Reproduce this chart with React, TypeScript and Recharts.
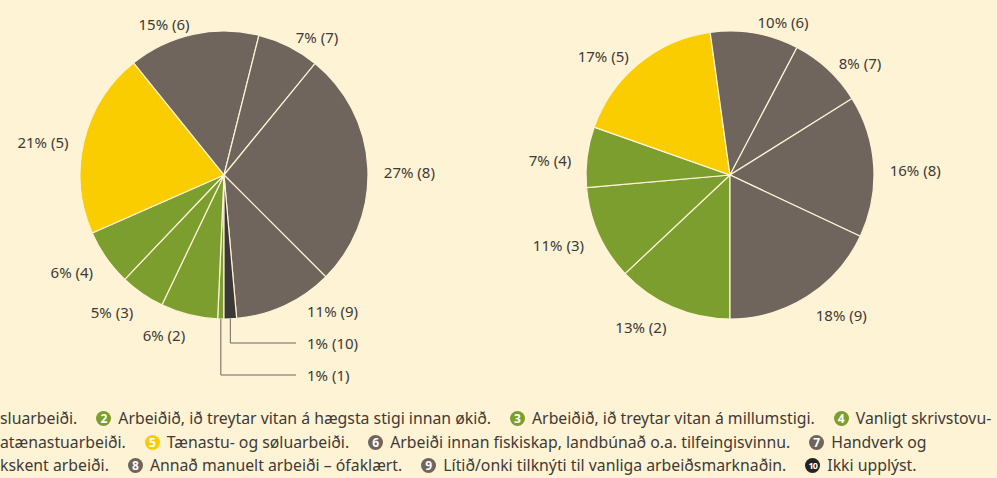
import { PieChart, Pie, Cell } from "recharts";

// occupational groups 1..10, shares in percent
const CODES = [1, 2, 3, 4, 5, 6, 7, 8, 9, 10];
const LEFT_SHARES = [0.7, 6.4, 5.0, 6.3, 20.8, 14.7, 7.0, 26.6, 11.1, 1.4];
const RIGHT_SHARES = [0, 13.0, 10.6, 6.8, 17.4, 9.9, 8.4, 15.9, 18.0, 0];

const GREEN = "#7b9e2f";
const YELLOW = "#f9cd00";
const BROWN = "#6f655c";
const DARK = "#3a3937";
const SLICE_COLORS = [GREEN, GREEN, GREEN, GREEN, YELLOW, BROWN, BROWN, BROWN, BROWN, DARK];

const BG = "#fff3d5";
const TEXT = "#3d3a37";
const FONT = "'Noto Sans', sans-serif";

// legend is cut at the left edge of the picture, so rows start mid-sentence
const LEGEND_ROWS = [
	[
		{ code: 0, text: "sluarbeiði." },
		{ code: 2, text: "Arbeiðið, ið treytar vitan á hægsta stigi innan økið." },
		{ code: 3, text: "Arbeiðið, ið treytar vitan á millumstigi." },
		{ code: 4, text: "Vanligt skrivstovu-" },
	],
	[
		{ code: 0, text: "atænastuarbeiði." },
		{ code: 5, text: "Tænastu- og søluarbeiði." },
		{ code: 6, text: "Arbeiði innan fiskiskap, landbúnað o.a. tilfeingisvinnu." },
		{ code: 7, text: "Handverk og" },
	],
	[
		{ code: 0, text: "kskent arbeiði." },
		{ code: 8, text: "Annað manuelt arbeiði – ófaklært." },
		{ code: 9, text: "Lítið/onki tilknýti til vanliga arbeiðsmarknaðin." },
		{ code: 10, text: "Ikki upplýst." },
	],
];

const RAD = Math.PI / 180;

function makeData(shares: number[]) {
	return CODES.map((code, i) => ({
		code,
		value: shares[i],
		color: SLICE_COLORS[i],
	})).filter((d) => d.value > 0);
}

const leftData = makeData(LEFT_SHARES);
const rightData = makeData(RIGHT_SHARES);

function labelRenderer(data: { code: number; value: number }[]) {
	// tiny slices get a leader line and are stacked in a column under the pie,
	// the slice just before them heads that column (no line)
	const small = data.filter((d) => d.value < 2).map((d) => d.code).reverse();
	const first = data.findIndex((d) => d.code === small[0]);
	const lead = small.length && first > 0 ? data[first - 1].code : -1;
	return (p: any) => {
		const { cx, cy, midAngle, outerRadius, value, payload } = p;
		const cos = Math.cos(-midAngle * RAD);
		const sin = Math.sin(-midAngle * RAD);
		const text = `${Math.round(value)}% (${payload.code})`;
		const textProps = {
			fill: TEXT,
			fontSize: 15,
			fontFamily: FONT,
			dominantBaseline: "central" as const,
		};
		const colX = cx + 72;
		const rowY = (rank: number) => cy + outerRadius + 24 + rank * 32;
		if (payload.code === lead) {
			return (
				<text x={colX + 11} y={rowY(-1)} textAnchor="start" {...textProps}>
					{text}
				</text>
			);
		}
		if (value < 2) {
			const rank = small.indexOf(payload.code);
			const x0 = cx + outerRadius * cos;
			const y0 = cy + outerRadius * sin;
			const yl = rowY(rank);
			return (
				<g>
					<polyline
						points={`${x0},${y0} ${x0},${yl} ${colX},${yl}`}
						fill="none"
						stroke={BROWN}
						strokeWidth={1}
					/>
					<text x={colX + 11} y={yl} textAnchor="start" {...textProps}>
						{text}
					</text>
				</g>
			);
		}
		const r = outerRadius + 16;
		const x = cx + r * cos;
		const y = cy + r * sin + 5;
		return (
			<text x={x} y={y} textAnchor={x > cx ? "start" : "end"} {...textProps}>
				{text}
			</text>
		);
	};
}

function LegendDot({ code }: { code: number }) {
	return (
		<span
			style={{
				display: "inline-flex",
				alignItems: "center",
				justifyContent: "center",
				width: 15,
				height: 15,
				borderRadius: "50%",
				background: code > 9 ? "#242322" : SLICE_COLORS[code - 1],
				color: "#fff",
				fontSize: code > 9 ? 9 : 12,
				fontWeight: 700,
				marginRight: 7,
				letterSpacing: code > 9 ? -0.8 : 0,
			}}
		>
			{code}
		</span>
	);
}

export default function App() {
	return (
		<div
			style={{
				position: "absolute",
				left: 0,
				top: 0,
				width: 997,
				height: 478,
				background: BG,
				overflow: "hidden",
				fontFamily: FONT,
			}}
		>
			<PieChart width={997} height={400} margin={{ top: 0, right: 0, bottom: 0, left: 0 }}>
				<Pie
					data={leftData}
					dataKey="value"
					cx={224}
					cy={175}
					outerRadius={144}
					startAngle={-90}
					endAngle={-450}
					stroke={BG}
					strokeWidth={1.2}
					label={labelRenderer(leftData)}
					labelLine={false}
					isAnimationActive={false}
				>
					{leftData.map((d) => (
						<Cell key={d.code} fill={d.color} />
					))}
				</Pie>
				<Pie
					data={rightData}
					dataKey="value"
					cx={730}
					cy={175}
					outerRadius={144}
					startAngle={-90}
					endAngle={-450}
					stroke={BG}
					strokeWidth={1.2}
					label={labelRenderer(rightData)}
					labelLine={false}
					isAnimationActive={false}
				>
					{rightData.map((d) => (
						<Cell key={d.code} fill={d.color} />
					))}
				</Pie>
			</PieChart>
			<div
				style={{
					position: "absolute",
					left: 0,
					top: 407,
					fontSize: 15.8,
					lineHeight: "23.5px",
					color: TEXT,
				}}
			>
				{LEGEND_ROWS.map((row, ri) => (
					<div key={ri} style={{ display: "flex", alignItems: "center", whiteSpace: "nowrap", height: 23.5 }}>
						{row.map((item, ii) => (
							<span key={ii} style={{ display: "inline-flex", alignItems: "center", marginRight: 19 }}>
								{item.code > 0 && <LegendDot code={item.code} />}
								{item.text}
							</span>
						))}
					</div>
				))}
			</div>
		</div>
	);
}
